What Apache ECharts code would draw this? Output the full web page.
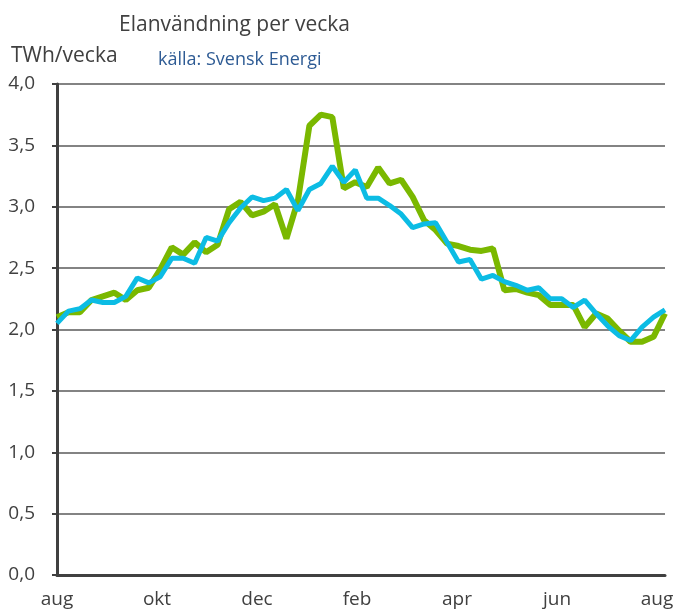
<!DOCTYPE html>
<html lang="sv">
  <head>
    <meta charset="UTF-8" />
    <title>Elanvändning per vecka</title>
    <script src="https://cdn.jsdelivr.net/npm/echarts@6.0.0/dist/echarts.min.js"></script>
    <style>
      body { margin: 0; background: #fff; }
    </style>
  </head>
  <body>
    <div id="main" style="width: 677px; height: 610px"></div>
    <script type="text/javascript">
      // month labels on the x axis (every second month)
      const monthLabels = ["aug", "okt", "dec", "feb", "apr", "jun", "aug"];

      // TWh per week, one value per week
      const greenValues = [
        2.10, 2.14, 2.14, 2.24, 2.27, 2.30, 2.24, 2.32, 2.34, 2.49,
        2.67, 2.61, 2.71, 2.63, 2.69, 2.98, 3.04, 2.93, 2.96, 3.02,
        2.74, 3.05, 3.66, 3.75, 3.73, 3.15, 3.20, 3.16, 3.32, 3.19,
        3.22, 3.08, 2.89, 2.81, 2.70, 2.68, 2.65, 2.64, 2.66, 2.32,
        2.33, 2.30, 2.28, 2.20, 2.20, 2.20, 2.02, 2.13, 2.09, 1.99,
        1.90, 1.90, 1.94, 2.13,
      ];
      const blueValues = [
        2.05, 2.15, 2.17, 2.24, 2.22, 2.22, 2.27, 2.42, 2.38, 2.43,
        2.58, 2.58, 2.54, 2.75, 2.72, 2.87, 2.99, 3.08, 3.05, 3.07,
        3.14, 2.97, 3.14, 3.19, 3.33, 3.20, 3.30, 3.07, 3.07, 3.01,
        2.94, 2.83, 2.86, 2.87, 2.71, 2.55, 2.57, 2.41, 2.44, 2.39,
        2.36, 2.32, 2.34, 2.25, 2.25, 2.18, 2.24, 2.13, 2.03, 1.95,
        1.91, 2.02, 2.10, 2.16,
      ];

      const font = "'Open Sans', sans-serif";
      const weeks = greenValues.length - 1;

      let myChart = echarts.init(document.getElementById("main"));
      let options = {
        animation: false,
        backgroundColor: "#fff",
        title: [
          {
            text: "Elanvändning per vecka",
            left: 114,
            top: 10,
            textStyle: { fontFamily: font, fontSize: 21, fontWeight: "normal", color: "#404040" },
          },
          {
            text: "TWh/vecka",
            left: 6,
            top: 41,
            textStyle: { fontFamily: font, fontSize: 21, fontWeight: "normal", color: "#404040" },
          },
          {
            text: "källa: Svensk Energi",
            left: 153,
            top: 46,
            textStyle: { fontFamily: font, fontSize: 18, fontWeight: "normal", color: "#2E5B94" },
          },
        ],
        grid: { left: 57, right: 12, top: 84, bottom: 35 },
        xAxis: [
          {
            // weekly axis the lines are drawn on
            type: "value",
            min: 0,
            max: weeks,
            show: false,
          },
          {
            // month axis for the labels
            type: "value",
            position: "bottom",
            min: 0,
            max: (12 * 608) / 600,
            interval: 2,
            axisLine: { lineStyle: { color: "#404040", width: 3 } },
            axisTick: { show: false },
            splitLine: { show: false },
            axisLabel: {
              showMaxLabel: false,
              margin: 15,
              fontFamily: font,
              fontSize: 19,
              color: "#404040",
              formatter: (v) => monthLabels[Math.round(v / 2)],
            },
          },
        ],
        yAxis: {
          type: "value",
          min: 0,
          max: 4,
          interval: 0.5,
          axisLine: { show: true, lineStyle: { color: "#404040", width: 3 } },
          axisTick: { show: true, length: 5, lineStyle: { color: "#404040", width: 2 } },
          splitLine: { lineStyle: { color: "#5a5a5a", width: 1.6 } },
          axisLabel: {
            margin: 22,
            fontFamily: font,
            fontSize: 19,
            color: "#404040",
            formatter: (v) => v.toFixed(1).replace(".", ","),
          },
        },
        series: [
          {
            type: "line",
            xAxisIndex: 0,
            data: greenValues.map((v, i) => [i, v]),
            symbol: "none",
            lineStyle: { color: "#7AB800", width: 6 },
            z: 2,
          },
          {
            type: "line",
            xAxisIndex: 0,
            data: blueValues.map((v, i) => [i, v]),
            symbol: "none",
            lineStyle: { color: "#0CBCE4", width: 5 },
            z: 3,
          },
        ],
      };
      myChart.setOption(options);
    </script>
  </body>
</html>
